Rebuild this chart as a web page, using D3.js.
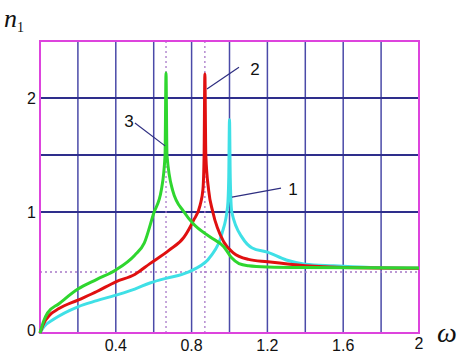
<!DOCTYPE html>
<html>
<head>
<meta charset="utf-8">
<script src="https://cdn.jsdelivr.net/npm/d3@7"></script>
<style>
  body { margin: 0; background: #fff; }
  svg { display: block; }
</style>
</head>
<body>
<div class="graph"></div>
<script>
(() => {
var width = 459,
    height = 354;

// curve 1 (cyan), curve 2 (red), curve 3 (green): [omega, n1]
var curve1 = [[0,0],[0.02,0.05],[0.07,0.11],[0.2,0.215],[0.3,0.265],[0.4,0.31],[0.5,0.36],[0.58,0.41],
    [0.67,0.45],[0.75,0.48],[0.81,0.52],[0.9,0.63],[0.96,0.82],[0.99,1.05],[0.996,1.3],[1.0,1.81],
    [1.004,1.3],[1.012,1.0],[1.07,0.78],[1.12,0.7],[1.2,0.665],[1.3,0.6],[1.4,0.565],[1.55,0.552],
    [1.72,0.54],[2.0,0.532]];
var curve2 = [[0,0],[0.02,0.08],[0.05,0.145],[0.1,0.2],[0.2,0.27],[0.3,0.34],[0.4,0.42],[0.5,0.48],
    [0.58,0.57],[0.68,0.68],[0.76,0.79],[0.81,0.93],[0.845,1.06],[0.86,1.2],[0.866,1.5],[0.87,2.21],
    [0.875,1.5],[0.89,1.19],[0.912,1.0],[0.97,0.75],[1.02,0.66],[1.1,0.605],[1.2,0.585],[1.4,0.552],
    [1.6,0.538],[2.0,0.532]];
var curve3 = [[0,0],[0.02,0.1],[0.04,0.165],[0.1,0.24],[0.2,0.36],[0.3,0.44],[0.4,0.517],[0.5,0.64],
    [0.55,0.74],[0.6,0.99],[0.64,1.19],[0.66,1.5],[0.665,2.22],[0.67,1.5],[0.70,1.19],[0.76,1.0],
    [0.81,0.9],[0.9,0.79],[0.97,0.71],[1.01,0.62],[1.05,0.57],[1.1,0.552],[1.2,0.542],[1.4,0.537],
    [2.0,0.533]];

var series = [
    {name: '1', data: curve1, color: '#3fe0e6'},
    {name: '2', data: curve2, color: '#e01010'},
    {name: '3', data: curve3, color: '#2fd62f'}
];

var xGrid = [0.2, 0.4, 0.6, 0.8, 1.0, 1.2, 1.4, 1.6, 1.8];
var yGrid = [1, 1.5, 2];
var xTicks = [0.4, 0.8, 1.2, 1.6, 2];
var yTicks = [0, 1, 2];
var xMarks = [0.665, 0.87];
var yMarks = [0.5];

// leader lines: [text pos, line start, line end] in data units
var labels = [
    {text: '1', at: [1.335, 1.2], from: [1.013, 1.13], to: [1.272, 1.21]},
    {text: '2', at: [1.135, 2.25], from: [0.881, 2.08], to: [1.05, 2.27]},
    {text: '3', at: [0.47, 1.79], from: [0.501, 1.78], to: [0.66, 1.58]}
];

var x = d3.scaleLinear()
    .domain([0, 2])
    .range([40, 419]);

var y = d3.scaleLinear()
    .domain([0, 0.5, 1, 1.5, 2, 2.5])
    .range([333, 272, 212, 155, 98, 41]);

var svg = d3.select('div.graph')
    .append('svg')
        .attr('width', width)
        .attr('height', height);

// grid
svg.append('g')
    .selectAll('line')
    .data(xGrid)
    .enter()
    .append('line')
        .attr('x1', d => x(d)).attr('x2', d => x(d))
        .attr('y1', y(0)).attr('y2', y(2.5))
        .style('stroke', '#4a4aa8')
        .style('stroke-width', 1.5);

svg.append('g')
    .selectAll('line')
    .data(yGrid)
    .enter()
    .append('line')
        .attr('x1', x(0)).attr('x2', x(2))
        .attr('y1', d => y(d)).attr('y2', d => y(d))
        .style('stroke', '#2e2e8c')
        .style('stroke-width', 2);

// dotted markers
svg.append('g')
    .selectAll('line')
    .data(xMarks)
    .enter()
    .append('line')
        .attr('x1', d => x(d)).attr('x2', d => x(d))
        .attr('y1', y(0)).attr('y2', y(2.5))
        .style('stroke', '#a878c8')
        .style('stroke-width', 1.3)
        .style('stroke-dasharray', '2,3');

svg.append('g')
    .selectAll('line')
    .data(yMarks)
    .enter()
    .append('line')
        .attr('x1', x(0)).attr('x2', x(2))
        .attr('y1', d => y(d)).attr('y2', d => y(d))
        .style('stroke', '#a878c8')
        .style('stroke-width', 1.3)
        .style('stroke-dasharray', '2,3');

// frame
svg.append('rect')
    .attr('x', x(0))
    .attr('y', y(2.5))
    .attr('width', x(2) - x(0))
    .attr('height', y(0) - y(2.5))
    .style('fill', 'none')
    .style('stroke', '#dd44dd')
    .style('stroke-width', 2);

// curves
var line = d3.line()
    .x(d => x(d[0]))
    .y(d => y(d[1]))
    .curve(d3.curveMonotoneX);

svg.append('g')
    .selectAll('path')
    .data(series)
    .enter()
    .append('path')
        .attr('d', d => line(d.data))
        .style('fill', 'none')
        .style('stroke', d => d.color)
        .style('stroke-width', 3)
        .style('stroke-linejoin', 'round');

// leader lines and labels
svg.append('g')
    .selectAll('line')
    .data(labels)
    .enter()
    .append('line')
        .attr('x1', d => x(d.from[0])).attr('y1', d => y(d.from[1]))
        .attr('x2', d => x(d.to[0])).attr('y2', d => y(d.to[1]))
        .style('stroke', '#2e2e80')
        .style('stroke-width', 1.2);

svg.append('g')
    .selectAll('text')
    .data(labels)
    .enter()
    .append('text')
        .attr('x', d => x(d.at[0]))
        .attr('y', d => y(d.at[1]))
        .attr('text-anchor', 'middle')
        .attr('dominant-baseline', 'central')
        .style('font-family', '"Liberation Sans", Arial, sans-serif')
        .style('font-size', '17px')
        .style('fill', '#111')
        .text(d => d.text);

// tick labels
svg.append('g')
    .selectAll('text')
    .data(xTicks)
    .enter()
    .append('text')
        .attr('x', d => x(d))
        .attr('y', d => d === 2 ? 349 : 351)
        .attr('text-anchor', 'middle')
        .style('font-family', '"Liberation Sans", Arial, sans-serif')
        .style('font-size', '16px')
        .style('fill', '#111')
        .text(d => d);

svg.append('g')
    .selectAll('text')
    .data(yTicks)
    .enter()
    .append('text')
        .attr('x', 36)
        .attr('y', d => d === 0 ? y(d) + 3 : y(d) + 6)
        .attr('text-anchor', 'end')
        .style('font-family', '"Liberation Sans", Arial, sans-serif')
        .style('font-size', '16px')
        .style('fill', '#111')
        .text(d => d);

// axis titles
var yTitle = svg.append('text')
    .attr('x', 4)
    .attr('y', 27)
    .style('font-family', '"Liberation Serif", "Times New Roman", serif')
    .style('font-style', 'italic')
    .style('font-size', '26px')
    .style('fill', '#111');
yTitle.append('tspan').text('n');
yTitle.append('tspan')
    .attr('dy', 5)
    .style('font-style', 'normal')
    .style('font-size', '14px')
    .text('1');

svg.append('text')
    .attr('x', 437)
    .attr('y', 342)
    .style('font-family', '"Liberation Serif", "Times New Roman", serif')
    .style('font-style', 'italic')
    .style('font-size', '28px')
    .style('fill', '#111')
    .text('ω');
})();
</script>
</body>
</html>
